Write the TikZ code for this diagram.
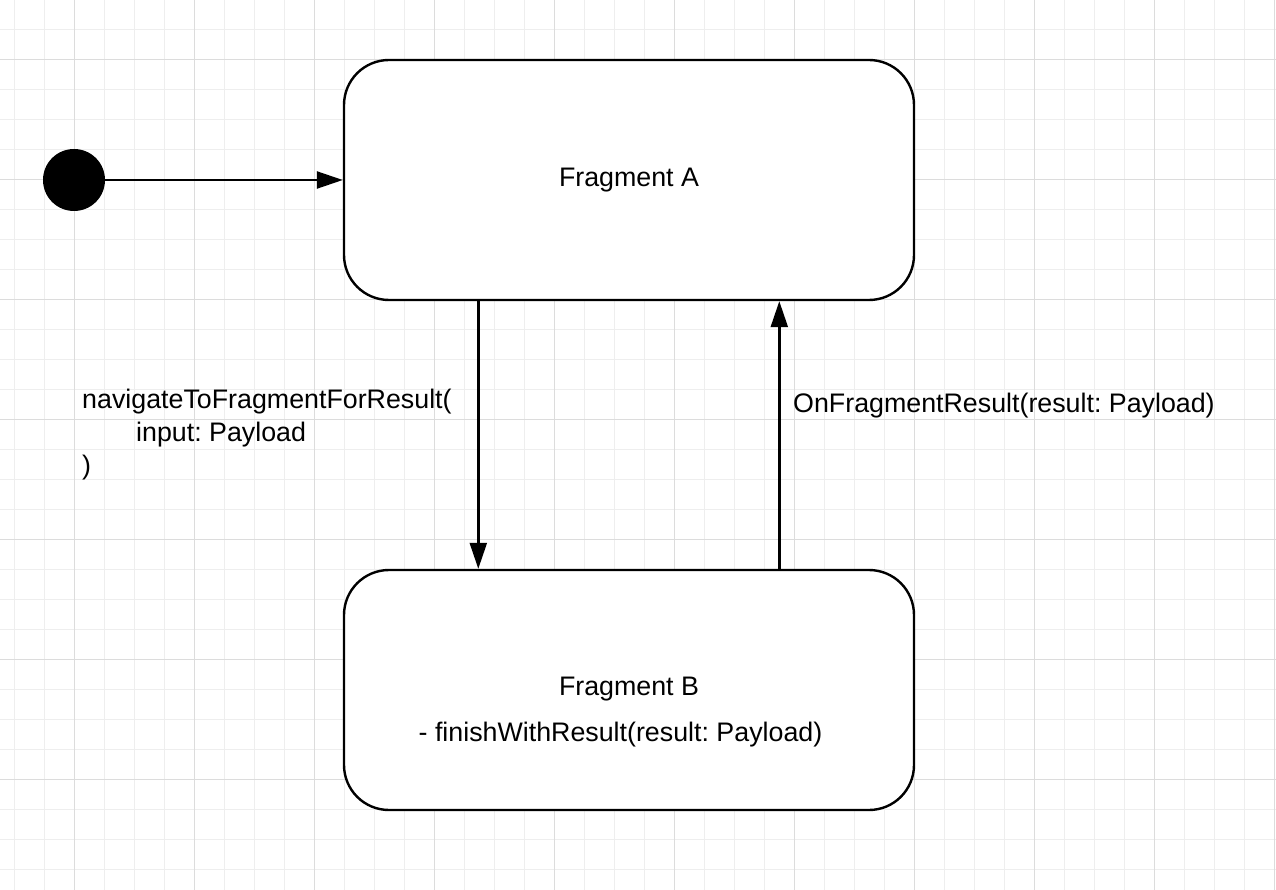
\documentclass[tikz,border=0pt]{standalone}
\usepackage{fontspec}
\setmainfont{Liberation Sans}
\usetikzlibrary{arrows.meta}
\frenchspacing
\definecolor{gridminor}{HTML}{EEEEEE}
\definecolor{gridmajor}{HTML}{DCDCDC}
\tikzset{
  statebox/.style={draw=black, line width=2.4pt, fill=white, rounded corners=45pt,
    minimum width=570pt, minimum height=240pt, inner sep=0pt},
  initstate/.style={circle, fill=black, minimum size=62pt, inner sep=0pt},
  arr/.style={line width=2.4pt, -{Triangle[length=26pt,width=17pt]}},
  lbl/.style={font=\fontsize{26.8}{33}\selectfont\frenchspacing, inner sep=0pt, text=black},
  minorline/.style={draw=gridminor, line width=1pt},
  majorline/.style={draw=gridmajor, line width=1pt}
}
\begin{document}
\begin{tikzpicture}[x=1pt,y=-1pt]
\useasboundingbox (0,0) rectangle (1276,890);
\fill[white] (0,0) rectangle (1276,890);
% grid
\foreach \gx in {0,...,42} {
  \draw[minorline] ({14.7+30*\gx},0) -- ({14.7+30*\gx},890);
}
\foreach \gy in {0,...,28} {
  \draw[minorline] (0,{29.3+30*\gy}) -- (1276,{29.3+30*\gy});
}
\foreach \gx in {0,...,10} {
  \draw[majorline] ({74.7+120*\gx},0) -- ({74.7+120*\gx},890);
}
\foreach \gy in {0,...,6} {
  \draw[majorline] (0,{59.3+120*\gy}) -- (1276,{59.3+120*\gy});
}
% states
\node[statebox] (A) at (629,180) {};
\node[statebox] (B) at (629,690) {};
\node[initstate] (init) at (74,180) {};
\node[lbl] (Atitle) at (629,180) {Fragment A};
\node[lbl] (Btitle) at (629,689) {Fragment B};
\node[lbl] (Bop) at (620.5,735) {- finishWithResult(result: Payload)};
% transitions
\draw[arr] (init) -- (A.west);
\draw[arr] ([xshift=-150.7pt]A.south) -- ([xshift=-150.7pt]B.north);
\draw[arr] ([xshift=150.3pt]B.north) -- ([xshift=150.3pt]A.south);
% labels
\node[lbl, anchor=west, align=left] (navlbl) at (82,435)
  {navigateToFragmentForResult(\\\hspace*{54pt}input: Payload\\)};
\node[lbl, anchor=west] (reslbl) at (793,406) {OnFragmentResult(result: Payload)};
\end{tikzpicture}
\end{document}
